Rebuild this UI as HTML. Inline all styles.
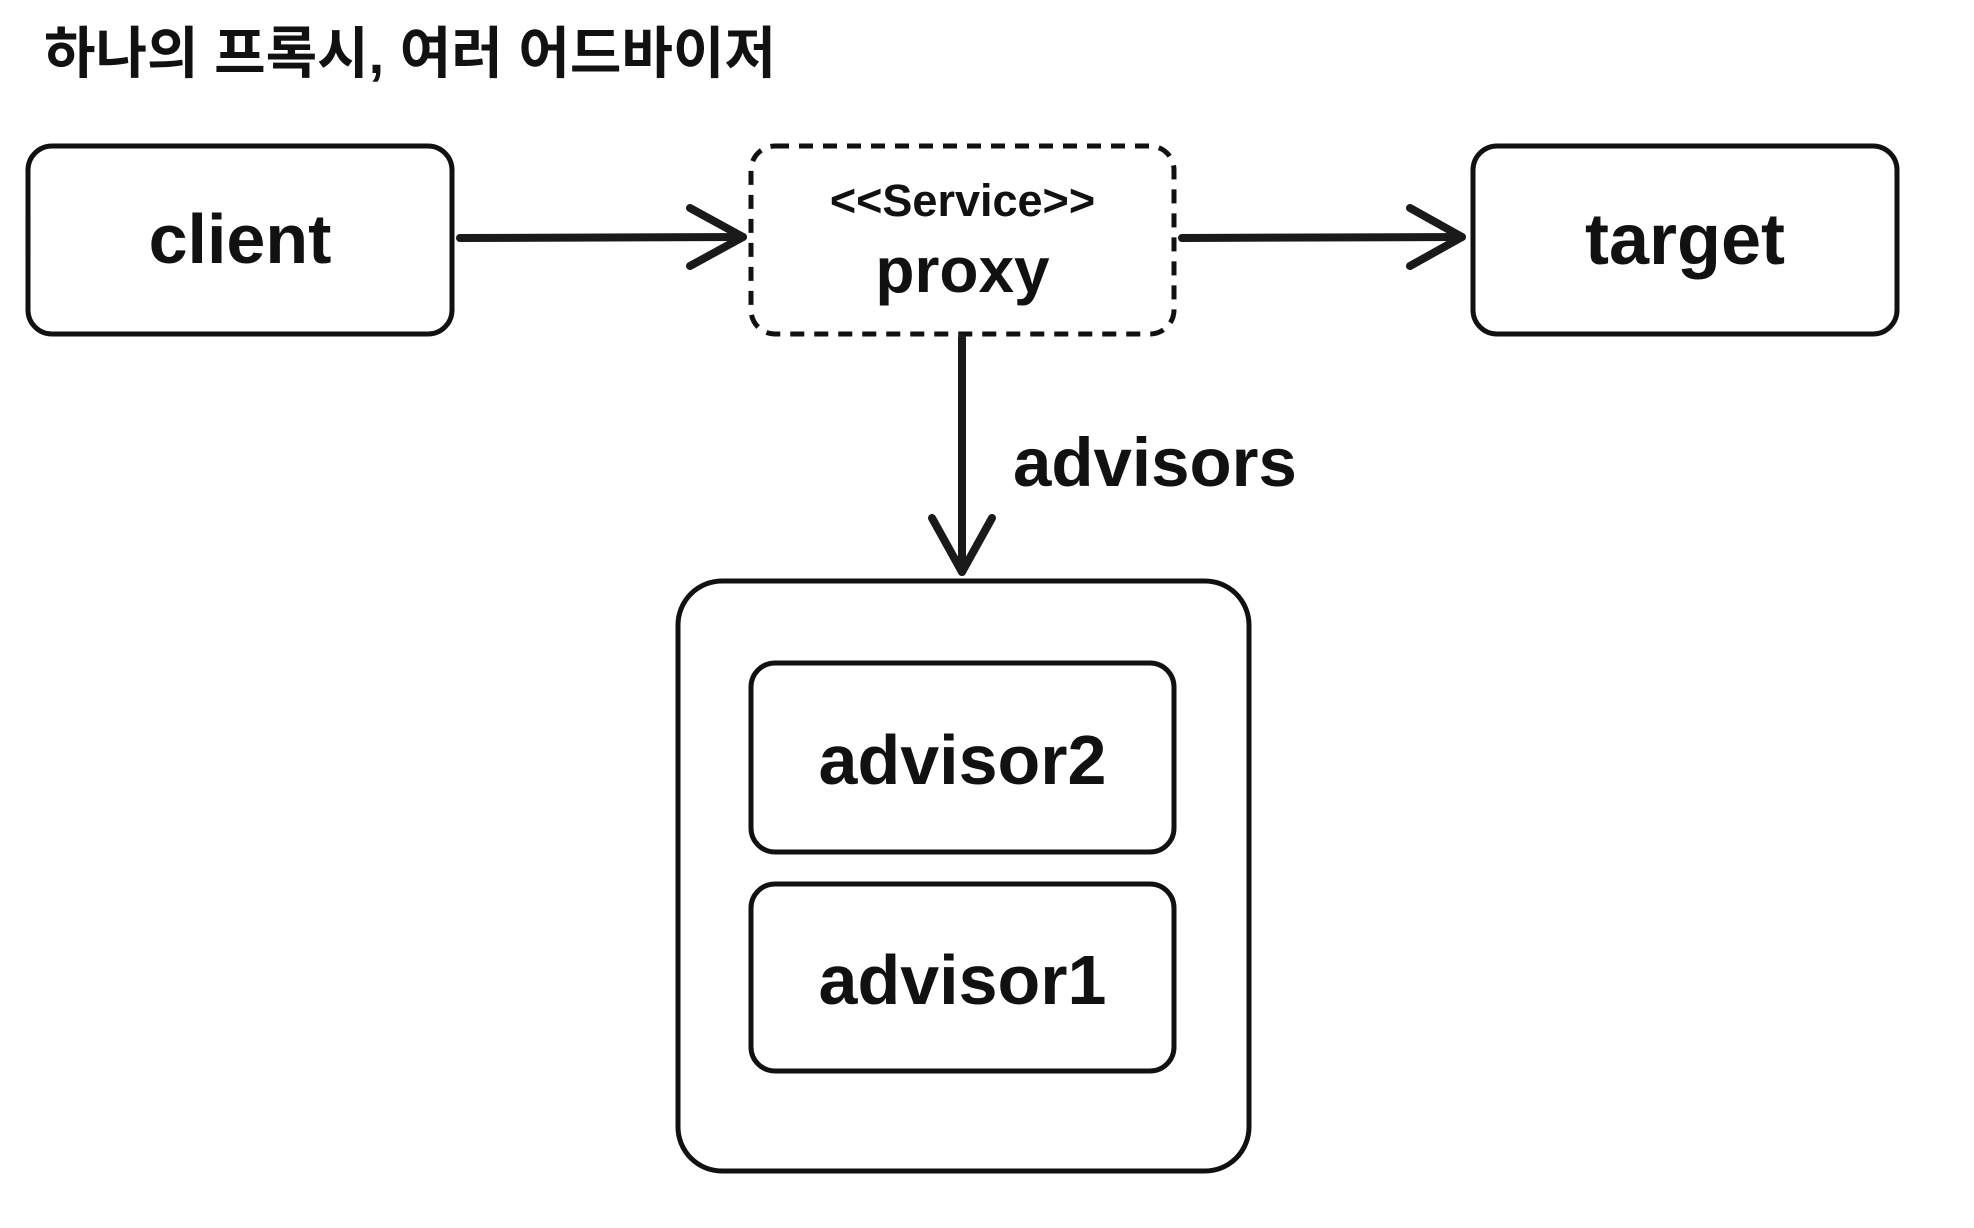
<!DOCTYPE html>
<html><head><meta charset="utf-8"><style>
html,body{margin:0;padding:0;background:#fff;}
body{width:1974px;height:1228px;position:relative;overflow:hidden;font-family:"Liberation Sans",Arial,sans-serif;color:#111;}
.t{position:absolute;white-space:nowrap;text-align:center;line-height:1;font-weight:bold;}
</style></head><body>
<svg width="1974" height="1228" style="position:absolute;left:0;top:0">
<g fill="none" stroke="#111" stroke-width="5">
<rect x="28" y="146" width="424" height="188" rx="24"/>
<rect x="1473" y="146" width="424" height="188" rx="24"/>
<rect x="751" y="146" width="423" height="188" rx="24" stroke-dasharray="14 10"/>
<rect x="678" y="581" width="571" height="590" rx="44"/>
<rect x="751" y="663" width="423" height="189" rx="24"/>
<rect x="751" y="884" width="423" height="187" rx="24"/>
</g>
<g fill="none" stroke="#1a1a1a" stroke-width="8" stroke-linecap="round" stroke-linejoin="round">
<line x1="460" y1="238" x2="743" y2="237"/>
<polyline points="690,208 743,237 690,266"/>
<line x1="1182" y1="238" x2="1462" y2="237"/>
<polyline points="1410,208 1462,237 1410,266"/>
<line x1="962" y1="338" x2="962" y2="572"/>
<polyline points="932,518 962,572 992,518"/>
</g>
</svg>
<div class="t" style="left:44px;top:26px;font-size:56px;font-family:'Liberation Sans','Noto Sans CJK KR',sans-serif;">하나의 프록시, 여러 어드바이저</div>
<div class="t" style="left:28px;width:424px;top:204px;font-size:70px;">client</div>
<div class="t" style="left:1473px;width:424px;top:204px;font-size:72px;">target</div>
<div class="t" style="left:751px;width:423px;top:178px;font-size:45px;">&lt;&lt;Service&gt;&gt;</div>
<div class="t" style="left:751px;width:423px;top:238px;font-size:64px;">proxy</div>
<div class="t" style="left:1013px;top:428px;font-size:69px;text-align:left;">advisors</div>
<div class="t" style="left:751px;width:423px;top:725px;font-size:70px;">advisor2</div>
<div class="t" style="left:751px;width:423px;top:945px;font-size:70px;">advisor1</div>
</body></html>
